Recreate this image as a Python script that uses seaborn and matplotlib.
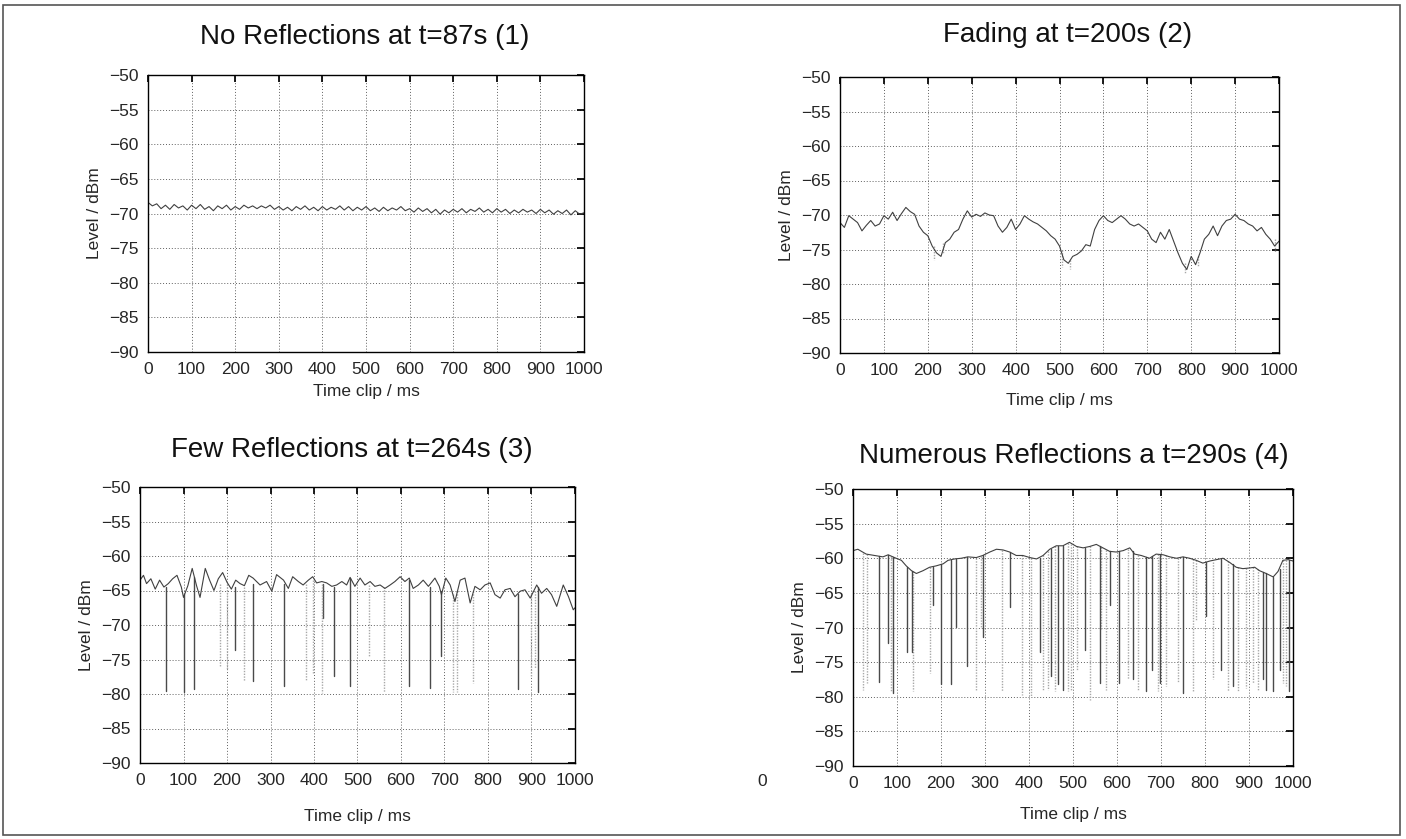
import numpy as np
import pandas as pd
import seaborn as sns
import matplotlib.pyplot as plt
from matplotlib.patches import Rectangle

# %% data
titles = ['No Reflections at t=87s (1)', 'Fading at t=200s (2)',
          'Few Reflections at t=264s (3)', 'Numerous Reflections a t=290s (4)']

# panel 1 - no reflections, flat noisy level
x1 = list(range(0, 1001, 10))
y1 = [-68.4, -68.9, -68.6, -69.3, -68.8, -69.4, -68.7, -69.2, -68.9, -69.5,
      -68.8, -69.3, -68.7, -69.4, -69.0, -69.6, -68.9, -69.3, -68.8, -69.5,
      -69.0, -69.4, -68.8, -69.2, -68.9, -69.3, -68.9, -69.2, -68.8, -69.4,
      -69.0, -69.5, -69.1, -69.6, -69.0, -69.4, -68.9, -69.5, -69.1, -69.6,
      -69.0, -69.5, -69.1, -69.4, -68.9, -69.5, -69.0, -69.6, -69.1, -69.5,
      -69.0, -69.6, -69.2, -69.7, -69.1, -69.6, -69.2, -69.5, -69.0, -69.6,
      -69.3, -69.8, -69.2, -69.7, -69.3, -69.9, -69.4, -70.1, -69.5, -69.9,
      -69.4, -69.8, -69.3, -69.9, -69.4, -69.7, -69.2, -69.8, -69.4, -69.9,
      -69.3, -69.8, -69.4, -70.0, -69.5, -69.9, -69.4, -69.8, -69.5, -70.0,
      -69.4, -69.9, -69.5, -70.1, -69.6, -70.0, -69.5, -70.2, -69.6, -70.1,
      -69.9]

# panel 2 - fading
x2 = list(range(0, 1001, 10))
y2 = [-71.1, -71.8, -70.1, -70.6, -71.1, -72.3, -71.5, -70.8, -71.6, -71.3,
      -70.1, -70.6, -69.6, -70.8, -69.8, -68.9, -69.5, -69.9, -71.6, -72.5,
      -73.0, -74.5, -75.5, -76.0, -74.0, -73.5, -72.5, -72.1, -70.6, -69.4,
      -70.3, -69.9, -70.2, -69.7, -70.0, -70.1, -71.6, -72.5, -71.8, -70.6,
      -72.1, -71.3, -70.1, -70.6, -71.0, -71.3, -71.8, -72.3, -73.0, -73.5,
      -74.5, -76.5, -77.0, -76.0, -75.7, -75.2, -74.3, -74.5, -72.1, -70.8,
      -70.1, -70.8, -71.1, -70.6, -70.1, -70.6, -71.3, -71.6, -71.3, -71.8,
      -72.3, -73.5, -74.0, -72.5, -73.5, -72.1, -73.8, -75.5, -77.0, -77.9,
      -76.0, -77.2, -75.5, -73.5, -72.8, -71.6, -73.0, -71.6, -70.8, -70.6,
      -69.9, -70.6, -70.8, -71.3, -71.6, -72.3, -71.8, -72.8, -73.5, -74.5,
      -73.8]
dip2_x = [215, 235, 505, 525, 785, 815, 990]
dip2_top = [-74.5, -74.0, -75.0, -76.5, -77.0, -76.0, -73.5]
dip2_bottom = [-76.5, -75.5, -77.5, -77.8, -78.6, -77.5, -75.3]
dip2_shade = ['light'] * 7

# panel 3 - few reflections
x3 = [0, 8, 15, 25, 35, 45, 55, 65, 75, 85, 95, 100, 110, 120, 130, 138, 150, 160, 170, 180,
      190, 200, 210, 220, 230, 240, 250, 260, 276, 291, 303, 314, 330, 341, 351, 364, 375, 387, 397, 406,
      418, 429, 441, 452, 464, 475, 483, 494, 506, 517, 529, 540, 552, 563, 575, 586, 598, 609, 619, 628,
      640, 651, 663, 678, 688, 693, 703, 713, 724, 736, 747, 759, 770, 782, 793, 805, 816, 828, 839, 851,
      862, 874, 885, 897, 912, 923, 935, 946, 958, 973, 985, 996, 1000]
y3 = [-63.5, -62.8, -64.0, -63.3, -64.8, -63.5, -64.5, -64.0, -63.3, -62.8,
      -64.5, -66.0, -64.3, -61.8, -64.3, -66.0, -61.8, -63.5, -65.0, -63.3,
      -62.4, -63.8, -64.8, -63.5, -64.0, -64.3, -62.8, -63.2, -64.2, -63.7,
      -65.1, -62.7, -63.5, -64.7, -63.0, -63.7, -64.2, -63.5, -63.0, -63.9,
      -63.7, -63.9, -64.4, -64.2, -63.7, -64.2, -63.1, -64.4, -63.2, -64.2,
      -63.7, -64.4, -64.2, -64.7, -64.2, -63.7, -63.0, -63.7, -63.2, -64.7,
      -64.2, -63.5, -64.4, -63.2, -64.4, -65.6, -63.2, -64.2, -66.6, -63.5,
      -63.2, -66.8, -64.4, -64.9, -64.2, -63.9, -65.6, -66.1, -64.9, -64.7,
      -65.9, -65.1, -64.9, -66.1, -64.2, -65.4, -64.7, -65.6, -67.3, -64.2,
      -65.9, -67.8, -67.5]
dip3_x = [60, 102, 125, 184, 201, 218, 238, 259, 332, 381, 398, 418, 421, 447,
          483, 527, 562, 619, 667, 693, 719, 728, 766, 868, 900, 908, 916]
dip3_top = [-64.5, -65.5, -63.0, -64.0, -64.0, -64.5, -64.5, -64.0, -64.0, -64.0, -63.5, -64.0, -64.0, -64.5,
            -63.2, -64.2, -64.5, -63.5, -64.5, -65.0, -65.5, -65.0, -65.0, -65.5, -65.5, -65.0, -64.5]
dip3_bottom = [-79.5, -79.7, -79.3, -76.0, -76.4, -73.6, -78.1, -78.1, -78.8, -77.9, -76.9, -79.8, -69.0, -77.4,
               -78.8, -74.5, -79.7, -78.9, -79.2, -74.5, -79.7, -79.7, -78.4, -79.3, -77.4, -76.2, -79.7]
dip3_shade = ['dark', 'dark', 'dark', 'light', 'light', 'dark', 'light', 'dark', 'dark', 'light', 'light', 'light',
              'dark', 'dark', 'dark', 'light', 'light', 'dark', 'dark', 'dark', 'light', 'light', 'light', 'dark',
              'light', 'light', 'dark']

# panel 4 - numerous reflections
x4 = [0, 11, 30, 49, 68, 80, 98, 110, 121, 133, 144, 159, 174, 189, 205, 216, 231, 246, 261, 280,
      295, 311, 326, 341, 356, 371, 386, 402, 417, 432, 447, 462, 477, 492, 508, 523, 538, 553, 568, 583,
      598, 614, 629, 640, 655, 674, 689, 705, 720, 735, 750, 765, 780, 795, 811, 826, 841, 856, 871, 886,
      902, 913, 924, 939, 955, 966, 977, 989, 1000]
y4 = [-58.9, -58.7, -59.4, -59.6, -59.8, -59.5, -60.0, -60.3, -61.1, -61.8,
      -62.2, -61.8, -61.3, -61.1, -60.8, -60.3, -60.1, -60.0, -59.8, -59.9,
      -59.6, -59.1, -58.7, -58.8, -59.1, -59.6, -59.6, -59.9, -60.1, -59.6,
      -58.7, -58.2, -58.2, -57.7, -58.3, -58.5, -58.3, -58.0, -58.5, -59.0,
      -59.1, -58.9, -58.5, -59.4, -59.6, -60.0, -59.4, -59.5, -59.8, -60.0,
      -59.8, -60.0, -60.3, -60.7, -60.4, -60.2, -60.0, -60.6, -61.3, -61.5,
      -61.4, -61.3, -61.8, -62.2, -62.7, -61.9, -60.3, -60.2, -60.4]
dip4_light_x = [23, 32, 87, 136, 174, 280, 292, 339, 383, 405, 432, 443, 458, 489, 496, 508, 538,
                564, 576, 625, 648, 693, 712, 739, 773, 780, 818, 852, 875, 894, 909, 920, 977, 985]
dip4_light_top = [-59.2, -59.4, -59.7, -61.9, -61.3, -59.9, -59.7, -58.8, -59.6, -59.9, -59.6, -58.9, -58.3,
                  -57.8, -58.0, -58.3, -58.3, -58.4, -58.8, -58.6, -59.5, -59.4, -59.6, -60.0, -60.1, -60.3,
                  -60.5, -60.4, -61.3, -61.4, -61.3, -61.6, -60.3, -60.2]
dip4_light_bottom = [-79.0, -78.0, -79.2, -79.2, -76.6, -79.0, -69.9, -79.2, -79.7, -79.9, -79.2, -79.0, -79.2,
                     -79.2, -79.0, -76.1, -80.4, -70.4, -79.0, -77.5, -79.2, -79.2, -78.5, -78.0, -79.2, -68.9,
                     -77.5, -79.2, -79.2, -78.7, -78.0, -79.0, -78.0, -78.5]
dip4_dark_x = [59, 80, 92, 123, 133, 182, 201, 223, 233, 258, 295, 356, 424, 451, 466, 477, 527,
               561, 583, 605, 636, 667, 680, 697, 750, 803, 837, 864, 932, 939, 955, 970, 992]
dip4_dark_top = [-59.7, -59.5, -59.8, -61.2, -61.8, -61.2, -60.9, -60.2, -60.1, -59.8, -59.6, -59.1, -59.9,
                 -58.6, -58.2, -58.2, -58.5, -58.2, -59.0, -59.0, -59.0, -59.8, -59.7, -59.4, -59.8, -60.5,
                 -60.1, -60.9, -62.0, -62.2, -62.7, -61.5, -60.3]
dip4_dark_bottom = [-77.8, -72.3, -79.4, -73.5, -73.5, -66.8, -78.2, -78.2, -69.9, -75.6, -71.3, -67.0, -73.5,
                    -77.0, -78.2, -79.0, -73.2, -78.0, -66.8, -78.0, -77.5, -79.2, -76.1, -78.0, -79.4, -68.4,
                    -76.1, -78.5, -77.5, -79.0, -79.2, -76.1, -79.2]

x_ticks = list(range(0, 1001, 100))
y_ticks = list(range(-90, -49, 5))

# %%
sns.set_theme(style='white')
plt.rcParams['font.family'] = ['Liberation Sans', 'DejaVu Sans']
plt.rcParams['axes.unicode_minus'] = True


def draw_panel(ax, x, y, dip_x=(), dip_top=(), dip_bottom=(), dip_shade=(), xpad=7):
    if len(dip_x):
        rows = []
        for i, (dx, top, bot, shade) in enumerate(zip(dip_x, dip_top, dip_bottom, dip_shade)):
            rows.append({'dip': i, 'Time clip / ms': dx, 'Level / dBm': top, 'shade': shade})
            rows.append({'dip': i, 'Time clip / ms': dx, 'Level / dBm': bot, 'shade': shade})
        dips = pd.DataFrame(rows)
        sns.lineplot(ax=ax, data=dips, x='Time clip / ms', y='Level / dBm', units='dip',
                     hue='shade', style='shade', palette={'dark': '#4a4a4a', 'light': '#a8a8a8'},
                     dashes={'dark': '', 'light': (1, 1)}, estimator=None, sort=False,
                     legend=False, lw=1.0)
    trace = pd.DataFrame({'Time clip / ms': x, 'Level / dBm': y})
    sns.lineplot(ax=ax, data=trace, x='Time clip / ms', y='Level / dBm', color='#404040',
                 lw=0.8, estimator=None, sort=False)
    ax.set_xlim(0, 1000)
    ax.set_ylim(-90, -50)
    ax.set_xticks(x_ticks)
    ax.set_yticks(y_ticks)
    ax.grid(True, linestyle=(0, (1, 2)), color='#606060', lw=0.7)
    ax.tick_params(direction='in', length=5, top=True, right=True, labelsize=12.5, pad=7,
                   color='black')
    for sp in ax.spines.values():
        sp.set_color('black')
        sp.set_linewidth(1.0)
    ax.set_xlabel('Time clip / ms', fontsize=12.5, labelpad=xpad)
    ax.set_ylabel('Level / dBm', fontsize=12.5, labelpad=5)


W, H = 1406, 839
f = plt.figure(figsize=(W / 100, H / 100), dpi=100)

# axes boxes in pixels: left, top, right, bottom
boxes = [(148, 75, 584, 352), (840, 77, 1279, 353), (140, 487, 575, 763), (853, 489, 1293, 766)]
axs = [f.add_axes([l / W, 1 - b / H, (r - l) / W, (b - t) / H]) for l, t, r, b in boxes]

draw_panel(axs[0], x1, y1, xpad=5)
draw_panel(axs[1], x2, y2, dip2_x, dip2_top, dip2_bottom, dip2_shade, xpad=11)
draw_panel(axs[2], x3, y3, dip3_x, dip3_top, dip3_bottom, dip3_shade, xpad=15)
draw_panel(axs[3], x4, y4,
           dip4_light_x + dip4_dark_x, dip4_light_top + dip4_dark_top,
           dip4_light_bottom + dip4_dark_bottom,
           ['light'] * len(dip4_light_x) + ['dark'] * len(dip4_dark_x), xpad=12)

# titles placed by baseline
title_pos = [(365, 44), (1068, 42), (352, 457), (1074, 463)]
for t, (tx, ty) in zip(titles, title_pos):
    f.text(tx / W, 1 - ty / H, t, ha='center', va='baseline', fontsize=20, color='#111111')

# stray clipped tick label from the scan
f.text(762 / W, 1 - 782 / H, '0', ha='center', va='center', fontsize=12.5)

# outer frame of the figure
f.patches.append(Rectangle((3 / W, 1 - 835 / H), 1397 / W, 830 / H, transform=f.transFigure,
                           fill=False, edgecolor='#555555', lw=1.2))

f.savefig('out.png', dpi=100)
